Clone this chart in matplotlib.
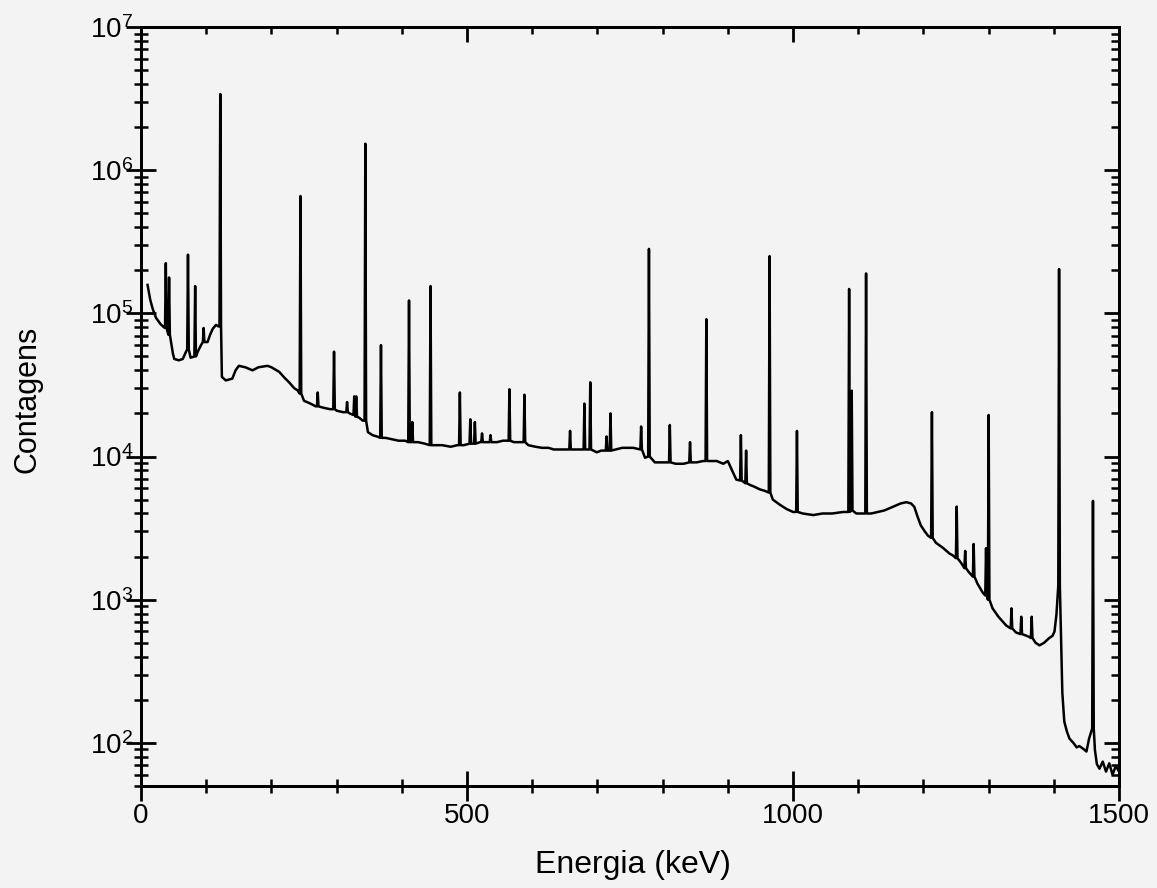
import numpy as np
import matplotlib
matplotlib.use('Agg')
import matplotlib.pyplot as plt
from matplotlib.ticker import MultipleLocator, FixedLocator, LogLocator, NullFormatter

# Fonts (Helvetica-like)
plt.rcParams['font.family'] = ['Liberation Sans', 'DejaVu Sans']
plt.rcParams['mathtext.fontset'] = 'custom'
plt.rcParams['mathtext.rm'] = 'Liberation Sans'
plt.rcParams['mathtext.default'] = 'regular'

# Continuum of the spectrum (energy in keV, counts)
cont_e = [10, 14, 18, 23, 30, 35, 46, 49, 51, 58, 64, 69, 76, 87, 92, 102, 106, 110, 115, 119,
          124, 130, 140, 145, 150, 160, 171, 180, 194, 200, 212, 220, 227, 235, 240,
          250, 260, 268, 280, 290, 300, 310, 320, 335, 340, 348, 355, 362, 375, 385,
          395, 405, 425, 435, 452, 462, 475, 485, 495, 520, 546, 555, 572, 580, 594,
          605, 615, 625, 633, 645, 668, 699, 706, 728, 738, 745, 755, 773, 788, 798,
          820, 832, 852, 862, 875, 883, 893, 900, 907, 913, 935, 939, 949, 957, 969,
          980, 990, 1000, 1015, 1031, 1045, 1060, 1077, 1097, 1105, 1120, 1130, 1140,
          1153, 1165, 1174, 1181, 1186, 1191, 1196, 1202, 1207, 1219, 1230, 1240, 1245,
          1258, 1270, 1283, 1291, 1306, 1315, 1327, 1342, 1358, 1362, 1372, 1378, 1385,
          1393, 1398, 1401, 1404, 1413, 1416, 1420, 1424, 1430, 1435, 1439, 1445, 1450,
          1454, 1463, 1466, 1470, 1475, 1480, 1485, 1490, 1495, 1500]
cont_c = [158000, 125000, 107000, 93000, 84000, 80000, 63000, 52000, 48000, 47000, 48000,
          54000, 49000, 54000, 60000, 63000, 71000, 78000, 83000, 81000,
          36000, 34000, 35000, 40000, 43000, 42000, 40000, 42000, 43000, 42000, 39000,
          35500, 33000, 30000, 29000,
          24500, 23400, 22400, 21900, 21400, 20900, 20400, 20000, 18600, 17800, 14800,
          14100, 13800, 13500, 13200,
          12900, 12900, 12600, 12300, 12000, 12000, 11700, 12000, 12000, 12600, 12600,
          12900, 12600, 12600, 12000,
          11700, 11500, 11500, 11200, 11200, 11200, 10700, 11000, 11200, 11500, 11500,
          11500, 9800, 9100, 9100,
          8900, 8900, 9100, 9300, 9300, 9300, 8900, 9300, 7900, 6900, 6300, 6200, 5900,
          5750, 5000,
          4600, 4300, 4100, 4000, 3900, 4000, 4000, 4100, 4000, 4000, 4000, 4100, 4200,
          4450, 4700, 4800, 4700, 4450, 3800, 3300, 3000, 2800, 2500, 2300, 2100, 2040,
          1800, 1550, 1290, 1120, 870, 760, 660, 590, 560, 550, 500, 480, 500,
          540, 560, 600, 790, 224, 141, 120, 107, 100, 93, 95, 91, 87,
          107, 89, 71, 66, 74, 63, 72, 60, 69, 63]

# Photopeaks: energy (keV), peak counts, counts at the foot of the peak
peak_e = [38, 43, 72, 83, 96, 121.5, 244.5, 271, 296, 316, 327, 330, 344, 368, 411, 416,
          444, 489, 505, 512, 523, 536, 565, 588, 658, 680, 689, 714, 720, 767, 779,
          811, 842, 867, 920, 928, 964, 1006, 1086, 1090, 1112, 1213, 1251, 1264, 1277,
          1296, 1300, 1335, 1350, 1366, 1408, 1460]
peak_top = [224000, 178000, 257000, 155000, 79000, 3.4e6, 660000, 28000, 54000, 24000,
            26300, 26300, 1.53e6, 60000, 123000, 17400,
            155000, 28000, 18200, 17400, 14500, 14100, 29500, 27000, 15100, 23400, 33000,
            13800, 20000, 16200, 282000,
            16600, 12600, 91000, 14100, 11000, 251000, 15100, 148000, 28800, 190000, 20400,
            4470, 2190, 2450,
            2290, 19500, 870, 760, 760, 204000, 4900]
peak_base = [79000, 71000, 56000, 50000, 63000, 81000, 27500, 22400, 21400, 20400,
             19500, 19000, 17800, 13500, 12600, 12600,
             12000, 12000, 12300, 12300, 12600, 12600, 12900, 12600, 11200, 11200, 11200,
             11000, 11000, 11200, 10000,
             9100, 9100, 9300, 6800, 6500, 5600, 4100, 4100, 4200, 4000, 2700,
             1950, 1660, 1450,
             1070, 1000, 630, 575, 540, 1260, 126]

# Merge continuum and peaks into one spectrum
half_width = 1.2
pts = list(zip(cont_e, cont_c))
for e, top, base in zip(peak_e, peak_top, peak_base):
    pts += [(e - half_width, base), (e, top), (e + half_width, base)]
pts.sort()
energy, counts = np.array(pts).T

bg = '#f3f3f3'
fig = plt.figure(figsize=(11.57, 8.88), dpi=100, facecolor=bg)
ax = fig.add_axes([0.1219, 0.1149, 0.8453, 0.8547], facecolor=bg)

ax.plot(energy, counts, color='black', linewidth=1.8)

ax.set_yscale('log')
ax.set_xlim(0, 1500)
ax.set_ylim(50, 1e7)

ax.xaxis.set_major_locator(FixedLocator([0, 500, 1000, 1500]))
ax.xaxis.set_minor_locator(MultipleLocator(100))
ax.yaxis.set_major_locator(LogLocator(base=10))
ax.yaxis.set_minor_locator(LogLocator(base=10, subs=np.arange(2, 10)))
ax.yaxis.set_minor_formatter(NullFormatter())

ax.tick_params(which='major', direction='inout', length=21, width=2,
               labelsize=20, top=False, right=False)
ax.tick_params(axis='x', which='major', pad=2)
ax.tick_params(axis='y', which='major', pad=-5)
ax.tick_params(which='minor', direction='inout', length=10.5, width=1.8,
               top=False, right=False)

for s in ax.spines.values():
    s.set_linewidth(2)

# inward ticks on the right and top edges
axr = ax.twinx()
axr.set_yscale('log')
axr.set_ylim(50, 1e7)
axr.yaxis.set_minor_locator(LogLocator(base=10, subs=np.arange(2, 10)))
axr.tick_params(which='major', direction='in', length=11, width=2, labelright=False)
axr.tick_params(which='minor', direction='in', length=5.5, width=1.8, labelright=False)

axt = ax.twiny()
axt.set_xlim(0, 1500)
axt.xaxis.set_major_locator(FixedLocator([0, 500, 1000, 1500]))
axt.xaxis.set_minor_locator(MultipleLocator(100))
axt.tick_params(which='major', direction='in', length=11, width=2, labeltop=False)
axt.tick_params(which='minor', direction='in', length=5, width=1.8, labeltop=False)

for a in (axr, axt):
    for s in a.spines.values():
        s.set_linewidth(2)

ax.set_xlabel('Energia (keV)', fontsize=23)
ax.set_ylabel('Contagens', fontsize=22)
ax.xaxis.set_label_coords(0.503, -0.085)
ax.yaxis.set_label_coords(-0.101, 0.51)

fig.savefig('out.png', dpi=100, facecolor=bg)
